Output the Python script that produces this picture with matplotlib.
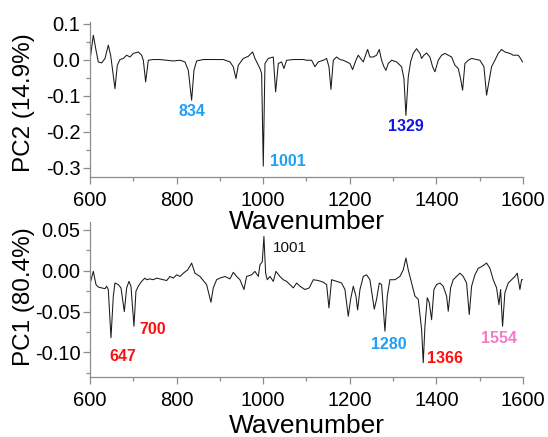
import matplotlib
matplotlib.use('Agg')
import numpy as np
from matplotlib import pyplot as plt
from matplotlib.ticker import MultipleLocator

plt.rcParams['font.family'] = ['Liberation Sans', 'DejaVu Sans']

# PC2 loading (wavenumber, loading)
pc2_wn = [601.5, 607.7, 613.9, 619.2, 626.9, 634.6, 642.3, 647.7, 652.3, 657.7,
          663.1, 669.3, 677.0, 684.7, 692.4, 700.1, 711.6, 719.3, 723.2, 728.6,
          734.7, 746.3, 761.7, 777.1, 792.5, 807.9, 819.4, 827.1, 834.8, 840.2,
          846.3, 861.7, 884.8, 907.9, 923.3, 931.0, 937.2, 942.6, 954.1, 965.7,
          975.7, 981.1, 992.6, 996.5, 1000.3, 1004.2, 1011.9, 1023.4, 1028.8, 1035.0,
          1042.6, 1048.0, 1054.2, 1069.6, 1092.7, 1100.4, 1112.0, 1119.6, 1127.3, 1138.9,
          1146.6, 1152.0, 1156.6, 1162.0, 1169.7, 1177.4, 1185.1, 1192.8, 1200.5, 1206.6,
          1214.3, 1219.7, 1225.1, 1231.3, 1236.6, 1241.3, 1246.6, 1254.3, 1262.0, 1268.2,
          1273.6, 1279.0, 1283.6, 1289.0, 1296.7, 1308.2, 1319.8, 1325.2, 1329.8, 1335.2,
          1340.6, 1346.7, 1354.4, 1362.1, 1366.0, 1371.4, 1377.5, 1385.2, 1391.4, 1396.8,
          1404.5, 1412.2, 1419.9, 1427.6, 1435.3, 1443.0, 1450.7, 1456.0, 1460.7, 1466.1,
          1473.8, 1481.5, 1493.0, 1500.7, 1510.0, 1516.1, 1522.2, 1527.6, 1535.3, 1543.0,
          1550.7, 1558.4, 1569.9, 1577.6, 1589.2, 1594.6, 1599.2]
pc2_val = [0.012, 0.0675, 0.026, -0.0067, -0.0094, 0.0027, 0.040, 0.012, -0.030, -0.081,
           -0.016, 0.0, 0.003, 0.012, 0.007, 0.017, 0.021, 0.012, -0.002, -0.062,
           -0.002, 0.0, 0.0, -0.002, -0.004, -0.002, -0.0066, -0.030, -0.113, -0.030,
           -0.004, 0.0, 0.0, 0.0, -0.0066, -0.020, -0.053, -0.016, 0.003, 0.009,
           0.021, 0.003, -0.025, -0.039, -0.296, -0.011, 0.003, 0.007, -0.090, -0.011,
           -0.0066, -0.025, -0.002, 0.0, 0.0, -0.002, -0.002, -0.020, -0.0066, -0.002,
           0.003, -0.020, -0.083, -0.002, 0.007, 0.0, -0.002, -0.0066, -0.011, -0.028,
           -0.002, 0.012, 0.003, -0.0066, 0.012, 0.028, 0.007, 0.007, 0.012, 0.028,
           -0.002, -0.020, -0.030, -0.011, -0.002, -0.0066, -0.020, -0.053, -0.155, -0.048,
           -0.0066, 0.017, 0.030, 0.017, 0.003, 0.012, 0.018, 0.007, -0.020, -0.034,
           -0.002, 0.012, 0.017, 0.012, 0.007, -0.016, -0.025, -0.053, -0.085, -0.011,
           -0.002, 0.003, 0.0, -0.002, -0.020, -0.099, -0.057, -0.020, -0.002, 0.017,
           0.028, 0.021, 0.017, 0.012, 0.012, 0.003, -0.0066]

# PC1 loading
pc1_wn = [601.5, 607.7, 613.9, 619.2, 626.9, 634.6, 638.5, 642.3, 648.5, 653.9,
          657.7, 665.4, 671.6, 679.3, 684.7, 690.1, 694.7, 701.6, 706.2, 711.6,
          719.3, 727.0, 730.9, 738.6, 746.3, 754.0, 761.7, 769.4, 777.1, 784.8,
          792.5, 800.2, 807.9, 815.6, 825.6, 834.8, 842.5, 854.0, 869.4, 879.4,
          884.8, 892.5, 900.2, 911.8, 923.3, 931.0, 938.7, 946.4, 955.7, 961.8,
          973.4, 981.1, 988.8, 992.6, 998.0, 1001.8, 1005.7, 1009.5, 1015.7, 1023.4,
          1029.6, 1038.8, 1046.5, 1054.2, 1061.9, 1069.6, 1077.3, 1085.0, 1096.5, 1106.5,
          1115.8, 1127.3, 1138.9, 1146.6, 1152.0, 1158.1, 1169.7, 1181.2, 1188.9, 1196.6,
          1202.0, 1208.2, 1214.3, 1218.2, 1223.6, 1231.3, 1239.0, 1246.6, 1256.7, 1262.0,
          1268.2, 1273.6, 1281.3, 1286.7, 1292.8, 1304.4, 1315.9, 1323.6, 1329.8, 1335.2,
          1342.9, 1350.6, 1358.3, 1366.0, 1369.8, 1373.7, 1379.1, 1383.7, 1389.1, 1394.5,
          1400.6, 1408.3, 1416.0, 1423.7, 1427.6, 1433.0, 1439.1, 1446.8, 1454.5, 1462.2,
          1469.9, 1476.1, 1481.5, 1489.1, 1496.8, 1504.5, 1516.1, 1523.8, 1531.5, 1539.2,
          1544.6, 1548.5, 1553.0, 1558.4, 1566.1, 1573.8, 1581.5, 1586.9, 1593.1, 1596.9,
          1599.2]
pc1_val = [-0.013, -0.0008, -0.017, -0.020, -0.021, -0.022, -0.019, -0.023, -0.082, -0.031,
           -0.015, -0.017, -0.021, -0.050, -0.021, -0.013, -0.019, -0.068, -0.025, -0.019,
           -0.013, -0.009, -0.011, -0.010, -0.011, -0.009, -0.010, -0.011, -0.012, -0.007,
           -0.009, -0.005, -0.007, -0.003, 0.001, 0.0093, -0.003, -0.007, -0.017, -0.0386,
           -0.021, -0.011, -0.009, -0.007, -0.010, -0.002, -0.007, -0.011, -0.023, -0.007,
           -0.005, -0.0008, -0.007, 0.0073, 0.011, 0.042, -0.003, -0.011, -0.007, -0.013,
           -0.0008, -0.007, -0.011, -0.013, -0.017, -0.021, -0.015, -0.019, -0.023, -0.021,
           -0.011, -0.012, -0.014, -0.017, -0.0455, -0.011, -0.013, -0.015, -0.023, -0.0557,
           -0.035, -0.019, -0.031, -0.048, -0.023, -0.007, -0.005, -0.011, -0.047, -0.035,
           -0.015, -0.017, -0.074, -0.031, -0.011, -0.011, -0.007, 0.001, 0.0155, 0.001,
           -0.015, -0.031, -0.035, -0.072, -0.1126, -0.068, -0.033, -0.039, -0.060, -0.023,
           -0.017, -0.015, -0.019, -0.031, -0.0496, -0.021, -0.011, -0.007, -0.003, -0.007,
           -0.015, -0.0537, -0.019, -0.005, 0.003, 0.005, 0.0094, 0.003, -0.011, -0.021,
           -0.0415, -0.023, -0.068, -0.027, -0.015, -0.011, -0.007, -0.003, -0.023, -0.011,
           -0.011]

# peak labels: text, x, y, colour, bold
pc2_labels = [('834', 835, -0.143, '#1fa0f5', True),
              ('1001', 1057, -0.284, '#1fa0f5', True),
              ('1329', 1330, -0.187, '#1414e6', True)]
pc1_labels = [('1001', 1062, 0.0277, '#111111', False),
              ('700', 744, -0.072, '#ff1010', True),
              ('647', 675, -0.1045, '#ff1010', True),
              ('1280', 1291, -0.090, '#1fa0f5', True),
              ('1366', 1420, -0.1077, '#ff1010', True),
              ('1554', 1545, -0.0833, '#f57ac8', True)]

fig = plt.figure(figsize=(5.48, 4.37), dpi=100)
ax1 = fig.add_axes([0.1642, 0.1366, 0.790, 0.356])
ax2 = fig.add_axes([0.1642, 0.5943, 0.790, 0.356])
ax1.patch.set_alpha(0)
ax2.patch.set_alpha(0)

spine_col = '#8c8c8c'

def style(ax, major, minor, xpad):
    for s in ['top', 'right']:
        ax.spines[s].set_visible(False)
    for s in ['left', 'bottom']:
        ax.spines[s].set_color(spine_col)
        ax.spines[s].set_linewidth(0.9)
    ax.set_xlim(600, 1600)
    ax.xaxis.set_major_locator(MultipleLocator(200))
    ax.xaxis.set_minor_locator(MultipleLocator(100))
    ax.yaxis.set_major_locator(MultipleLocator(major))
    ax.yaxis.set_minor_locator(MultipleLocator(minor))
    ax.tick_params(which='major', length=5, width=0.9, color=spine_col,
                   labelsize=14.5, direction='out')
    ax.tick_params(axis='x', which='major', pad=5)
    ax.tick_params(axis='y', which='major', pad=2)
    ax.tick_params(which='minor', length=3, width=0.9, color=spine_col, direction='out')
    ax.set_xlabel('Wavenumber', fontsize=19, labelpad=xpad)

ax2.plot(pc2_wn, pc2_val, color='#1a1a1a', lw=0.75)
style(ax2, 0.1, 0.05, 0)
ax2.set_ylim(-0.327, 0.105)
ax2.set_yticks([0.1, 0.0, -0.1, -0.2, -0.3])
ax2.set_yticklabels(['0.1', '0.0', '-0.1', '-0.2', '-0.3'])
ax2.set_ylabel('PC2 (14.9%)', fontsize=17.5)
ax2.yaxis.set_label_coords(-0.128, 0.48)

ax1.plot(pc1_wn, pc1_val, color='#1a1a1a', lw=0.75)
style(ax1, 0.05, 0.025, 3)
ax1.set_ylim(-0.1305, 0.060)
ax1.set_yticks([0.05, 0.0, -0.05, -0.10])
ax1.set_yticklabels(['0.05', '0.00', '-0.05', '-0.10'])
ax1.set_ylabel('PC1 (80.4%)', fontsize=17.5)
ax1.yaxis.set_label_coords(-0.128, 0.52)

for ax, labels in [(ax2, pc2_labels), (ax1, pc1_labels)]:
    for t, x, y, c, b in labels:
        ax.text(x, y, t, color=c, fontsize=11.5 if b else 11,
                fontweight='bold' if b else 'normal', ha='center', va='center')

fig.savefig('out.png', dpi=100)
